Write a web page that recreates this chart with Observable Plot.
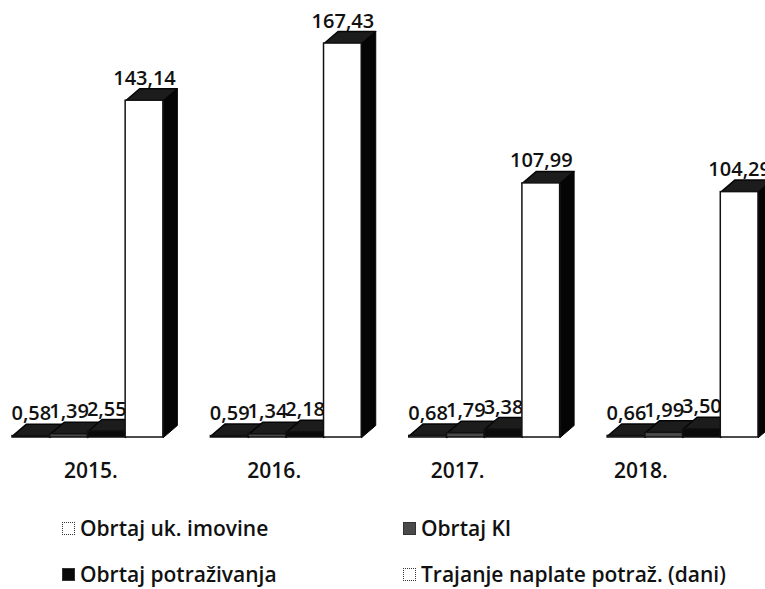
<!DOCTYPE html>
<html><head><meta charset="utf-8">
<script src="https://cdn.jsdelivr.net/npm/d3@7"></script>
<script src="https://cdn.jsdelivr.net/npm/@observablehq/plot@0.6"></script>
<style>
body{margin:0;background:#fff;font-family:"Open Sans",Lato,sans-serif;}
#wrap{position:relative;width:765px;height:589px;overflow:hidden;}
#wrap svg{position:absolute;left:0;top:0;}
.leg{position:absolute;font-size:21px;font-weight:600;line-height:28px;display:flex;align-items:center;color:#111;white-space:nowrap;}
.sw{width:13px;height:13px;border:1.5px dotted #333;margin-right:5px;box-sizing:border-box;}
</style></head><body><div id="wrap"></div>
<script>
const years = ["2015.","2016.","2017.","2018."];
const series = ["Obrtaj uk. imovine","Obrtaj KI","Obrtaj potraživanja","Trajanje naplate potraž. (dani)"];
const obrtajUkImovine = [0.58,0.59,0.68,0.66];
const obrtajKI = [1.39,1.34,1.79,1.99];
const obrtajPotrazivanja = [2.55,2.18,3.38,3.50];
const trajanjeNaplate = [143.14,167.43,107.99,104.29];
const seriesColors = ["#ffffff","#4a4a4a","#0a0a0a","#ffffff"];
const valueArrays = [obrtajUkImovine, obrtajKI, obrtajPotrazivanja, trajanjeNaplate];

// layout (perspective of the original: the category labels sit on a narrower floor line)
const W = 765, H = 490, mL = 12, mR = 7, mT = 37, mB = 53;
const groupStep = 5.26;            // group spacing in bar widths
const labelStep = 4.86, labelOffset = 2.08;
const xMax = 3*groupStep + 4;
const yMax = 170;
const pxPerX = (W - mL - mR) / xMax;
const pxPerY = (H - mT - mB) / yMax;
const depthX = 14 / pxPerX, depthY = 12 / pxPerY;

const fmt = v => v.toFixed(2).replace(".", ",");

const bars = [];
years.forEach((yr, g) => series.forEach((s, i) => {
  const x1 = g*groupStep + i;
  bars.push({year: yr, series: s, si: i, value: valueArrays[i][g], x1, x2: x1 + 1});
}));

const sides = [], tops = [];
bars.forEach((b, k) => {
  sides.push(
    {id: k, x: b.x2, y: 0}, {id: k, x: b.x2, y: b.value},
    {id: k, x: b.x2 + depthX, y: b.value + depthY}, {id: k, x: b.x2 + depthX, y: depthY}, {id: k, x: b.x2, y: 0});
  tops.push(
    {id: k, x: b.x1, y: b.value}, {id: k, x: b.x1 + depthX, y: b.value + depthY},
    {id: k, x: b.x2 + depthX, y: b.value + depthY}, {id: k, x: b.x2, y: b.value}, {id: k, x: b.x1, y: b.value});
});

const yearLabels = years.map((yr, g) => ({year: yr, x: g*labelStep + labelOffset}));

const chart = Plot.plot({
  width: W, height: H, marginLeft: mL, marginRight: mR, marginTop: mT, marginBottom: mB,
  x: {domain: [0, xMax], axis: null},
  y: {domain: [0, yMax], axis: null},
  style: {fontFamily: "'Open Sans', Lato, sans-serif", background: "transparent", overflow: "visible"},
  marks: [
    Plot.text(bars, {x: d => (d.x1 + d.x2)/2, y: d => d.value + depthY, text: d => fmt(d.value),
      lineAnchor: "bottom", dy: -4, fontSize: 20, fontWeight: 600, fill: "#111"}),
    Plot.line(sides, {x: "x", y: "y", z: "id", fill: "#050505", stroke: "#050505", strokeWidth: 1}),
    Plot.line(tops, {x: "x", y: "y", z: "id", fill: "#1c1c1c", stroke: "#050505", strokeWidth: 1.5}),
    Plot.rect(bars, {x1: "x1", x2: "x2", y1: 0, y2: "value", fill: d => seriesColors[d.si], stroke: "#111", strokeWidth: 1.5}),
    Plot.text(yearLabels, {x: "x", y: 0, text: "year", dy: 34, fontSize: 21, fontWeight: 600, fill: "#111"})
  ]
});
const wrap = document.getElementById("wrap");
wrap.appendChild(chart);

const legPos = [[62, 514], [403, 514], [62, 560], [403, 560]];
series.forEach((s, i) => {
  const d = document.createElement("div");
  d.className = "leg";
  d.style.left = legPos[i][0] + "px";
  d.style.top = legPos[i][1] + "px";
  const sw = document.createElement("span");
  sw.className = "sw";
  sw.style.background = seriesColors[i];
  if (i === 1 || i === 2) sw.style.borderStyle = "solid";
  d.appendChild(sw);
  d.appendChild(document.createTextNode(s));
  wrap.appendChild(d);
});
</script></body></html>
